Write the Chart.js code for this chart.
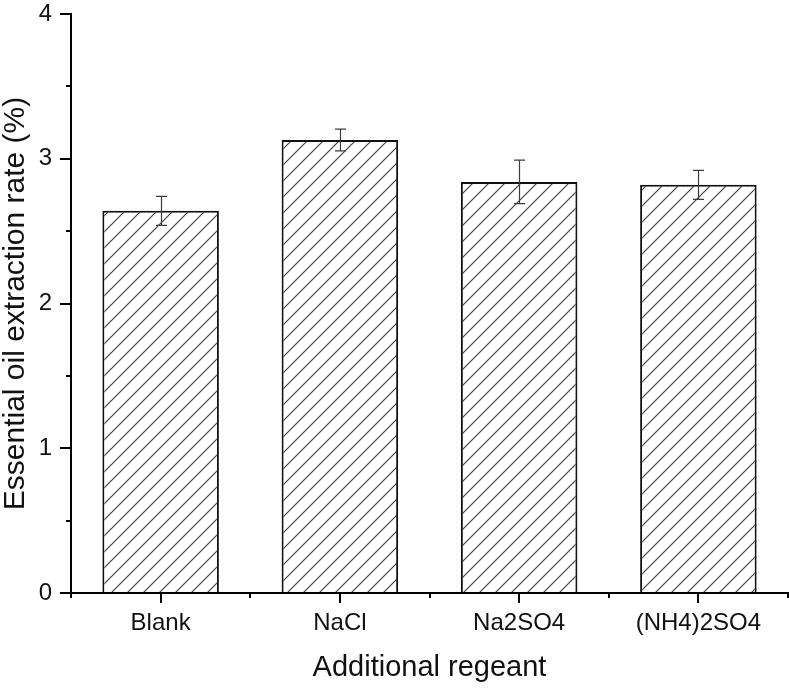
<!DOCTYPE html>
<html>
<head>
<meta charset="utf-8">
<script src="https://cdn.jsdelivr.net/npm/chart.js@4.4.0/dist/chart.umd.min.js"></script>
<style>
html,body{margin:0;padding:0;background:#fff;}
canvas{display:block;}
</style>
</head>
<body>
<canvas id="c" width="789" height="688"></canvas>
<script>
const categories = ["Blank", "NaCl", "Na2SO4", "(NH4)2SO4"];
const rates = [2.64, 3.13, 2.84, 2.82];
const errors = [0.10, 0.075, 0.15, 0.10];
const yTicks = [0, 1, 2, 3, 4];
const yMinorTicks = [0.5, 1.5, 2.5, 3.5];

function hatchPattern() {
  const s = 16;
  const c = document.createElement('canvas');
  c.width = s; c.height = s;
  const g = c.getContext('2d');
  g.fillStyle = '#fff';
  g.fillRect(0, 0, s, s);
  g.strokeStyle = '#3a3a3a';
  g.lineWidth = 1.1;
  g.beginPath();
  g.moveTo(-2, s + 2); g.lineTo(s + 2, -2);
  g.moveTo(-2, 2); g.lineTo(2, -2);
  g.moveTo(s - 2, s + 2); g.lineTo(s + 2, s - 2);
  g.stroke();
  return document.getElementById('c').getContext('2d').createPattern(c, 'repeat');
}

const extras = {
  id: 'extras',
  afterDatasetsDraw(chart) {
    const ctx = chart.ctx;
    const y = chart.scales.y, x = chart.scales.x;
    const meta = chart.getDatasetMeta(0);
    ctx.save();
    ctx.strokeStyle = '#3c3c3c';
    ctx.lineWidth = 1.2;
    meta.data.forEach((bar, i) => {
      const yt = y.getPixelForValue(rates[i] + errors[i]);
      const yb = y.getPixelForValue(rates[i] - errors[i]);
      const cx = Math.round(bar.x) + 0.5;
      ctx.beginPath();
      ctx.moveTo(cx, yt); ctx.lineTo(cx, yb);
      ctx.moveTo(cx - 5.5, yt); ctx.lineTo(cx + 5.5, yt);
      ctx.moveTo(cx - 5.5, yb); ctx.lineTo(cx + 5.5, yb);
      ctx.stroke();
    });
    ctx.strokeStyle = '#000';
    ctx.lineWidth = 2;
    ctx.beginPath();
    yMinorTicks.forEach(v => {
      const py = Math.round(y.getPixelForValue(v));
      ctx.moveTo(y.right - 5, py); ctx.lineTo(y.right, py);
    });
    const n = categories.length;
    for (let k = 0; k <= n; k++) {
      const px = Math.round(x.left + k * (x.right - x.left) / n);
      ctx.moveTo(px, x.top); ctx.lineTo(px, x.top + 5);
    }
    ctx.stroke();
    ctx.restore();
  }
};

new Chart(document.getElementById('c'), {
  type: 'bar',
  data: {
    labels: categories,
    datasets: [{
      data: rates,
      backgroundColor: hatchPattern(),
      borderColor: '#111',
      borderWidth: 2,
      categoryPercentage: 1,
      barPercentage: 0.65
    }]
  },
  plugins: [extras],
  options: {
    responsive: false,
    animation: false,
    devicePixelRatio: 1,
    layout: { padding: { top: 14, right: 1, left: 0, bottom: 0 } },
    plugins: { legend: { display: false }, tooltip: { enabled: false } },
    scales: {
      x: {
        offset: true,
        grid: { display: true, drawOnChartArea: false, offset: false, color: '#000', lineWidth: 2, tickLength: 10 },
        border: { display: true, color: '#000', width: 2 },
        ticks: { color: '#111', padding: 6, font: { family: 'Liberation Sans, Arial, sans-serif', size: 24 }, maxRotation: 0 },
        title: { display: true, text: 'Additional regeant', color: '#111', padding: { top: 0, bottom: 6 }, font: { family: 'Liberation Sans, Arial, sans-serif', size: 29, lineHeight: 1 } },
        afterFit(s) { s.height = 95; s.paddingLeft = 0; s.paddingRight = 0; }
      },
      y: {
        min: 0, max: 4,
        afterBuildTicks(s) { s.ticks = yTicks.map(v => ({ value: v })); },
        grid: { display: true, drawOnChartArea: false, color: '#000', lineWidth: 2, tickLength: 11 },
        border: { display: true, color: '#000', width: 2 },
        ticks: { color: '#111', padding: 8, font: { family: 'Liberation Sans, Arial, sans-serif', size: 24 } },
        title: { display: true, text: 'Essential oil extraction rate (%)', color: '#111', padding: { top: 1, bottom: 0 }, font: { family: 'Liberation Sans, Arial, sans-serif', size: 30, lineHeight: 1 } },
        afterFit(s) { s.width = 71; s.paddingTop = 0; s.paddingBottom = 0; }
      }
    }
  }
});
</script>
</body>
</html>
